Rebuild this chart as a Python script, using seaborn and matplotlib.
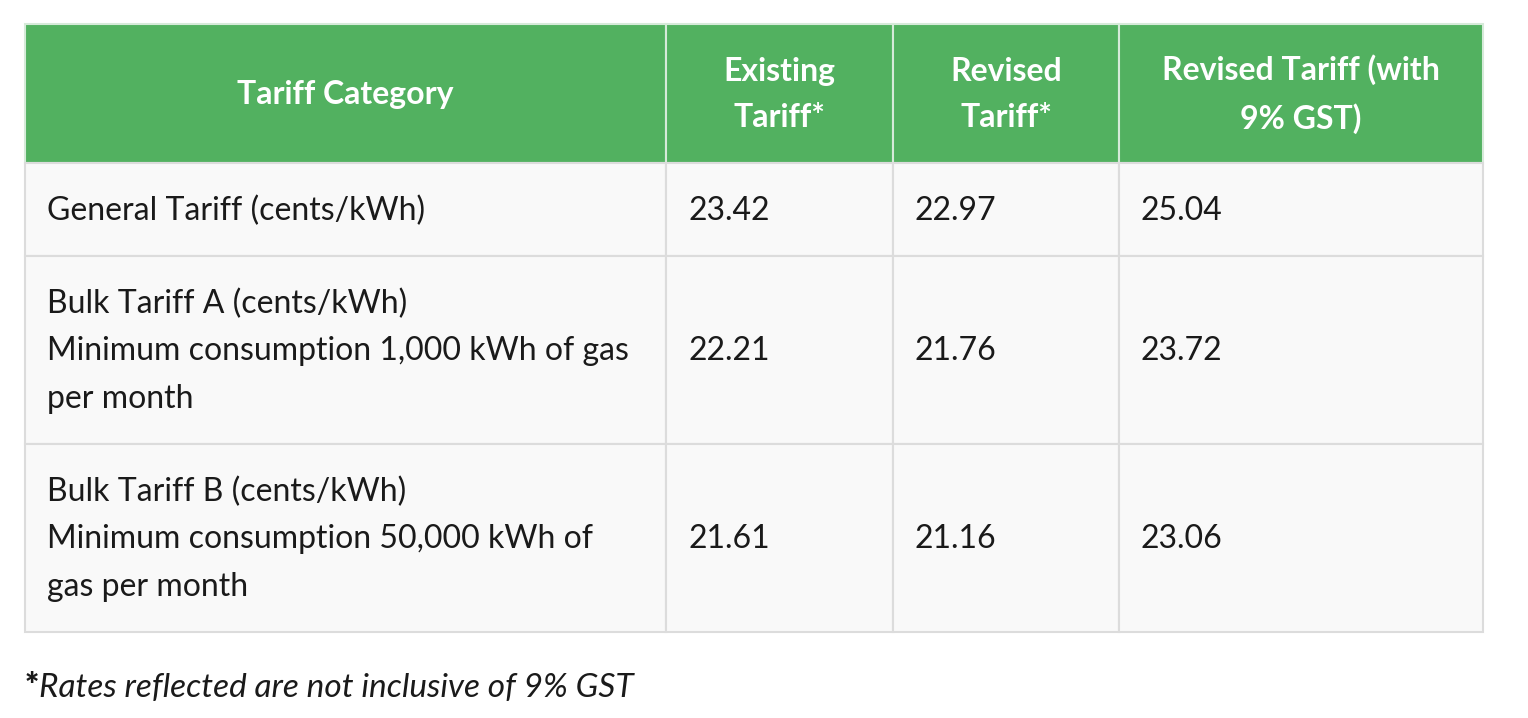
import matplotlib
matplotlib.use("Agg")
import matplotlib.pyplot as plt
from matplotlib.patches import Rectangle
import seaborn as sns

# table content
headers = ["Tariff Category", "Existing\nTariff*", "Revised\nTariff*", "Revised Tariff (with\n9% GST)"]
categories = [
    "General Tariff (cents/kWh)",
    "Bulk Tariff A (cents/kWh)\nMinimum consumption 1,000 kWh of gas\nper month",
    "Bulk Tariff B (cents/kWh)\nMinimum consumption 50,000 kWh of\ngas per month",
]
existing = [23.42, 22.21, 21.61]
revised = [22.97, 21.76, 21.16]
revised_gst = [25.04, 23.72, 23.06]
footnote = "Rates reflected are not inclusive of 9% GST"

# layout (pixels)
col_edges = [25, 666, 893, 1119, 1483]
row_edges = [24, 163, 256, 444, 632]
pad = 22
fs = 23

green = "#52b160"
cell_bg = "#f9f9f9"
border = "#dcdcdc"
text_col = "#1a1a1a"

sns.set_style("white")
plt.rcParams["font.family"] = ["Lato", "DejaVu Sans"]

fig = plt.figure(figsize=(15.28, 7.18), dpi=100)
ax = fig.add_axes([0, 0, 1, 1])
ax.set_xlim(0, 1528)
ax.set_ylim(718, 0)
ax.axis("off")

# header
for i, h in enumerate(headers):
    x0, x1 = col_edges[i], col_edges[i + 1]
    y0, y1 = row_edges[0], row_edges[1]
    ax.add_patch(Rectangle((x0, y0), x1 - x0, y1 - y0, facecolor=green,
                           edgecolor="#d6ead9", linewidth=1.5))
    ax.text((x0 + x1) / 2, (y0 + y1) / 2 + 1, h, color="white", fontsize=fs,
            fontweight="bold", ha="center", va="center", linespacing=1.72)

# body rows
columns = [categories,
           [f"{v:.2f}" for v in existing],
           [f"{v:.2f}" for v in revised],
           [f"{v:.2f}" for v in revised_gst]]
for r in range(len(categories)):
    y0, y1 = row_edges[r + 1], row_edges[r + 2]
    for c, col in enumerate(columns):
        x0, x1 = col_edges[c], col_edges[c + 1]
        ax.add_patch(Rectangle((x0, y0), x1 - x0, y1 - y0, facecolor=cell_bg,
                               edgecolor=border, linewidth=1.5))
        ax.text(x0 + pad, (y0 + y1) / 2 + 1, col[r], color=text_col, fontsize=fs,
                ha="left", va="center", linespacing=1.72)

# footnote
star = ax.text(col_edges[0], 697, "*", fontsize=fs + 1, fontweight="heavy",
               color=text_col, ha="left", va="baseline")
ax.annotate(footnote, xy=(1, 0), xycoords=star, fontsize=fs + 1, style="italic",
            color=text_col, ha="left", va="bottom")

fig.savefig("out.png", dpi=100)
plt.close(fig)
